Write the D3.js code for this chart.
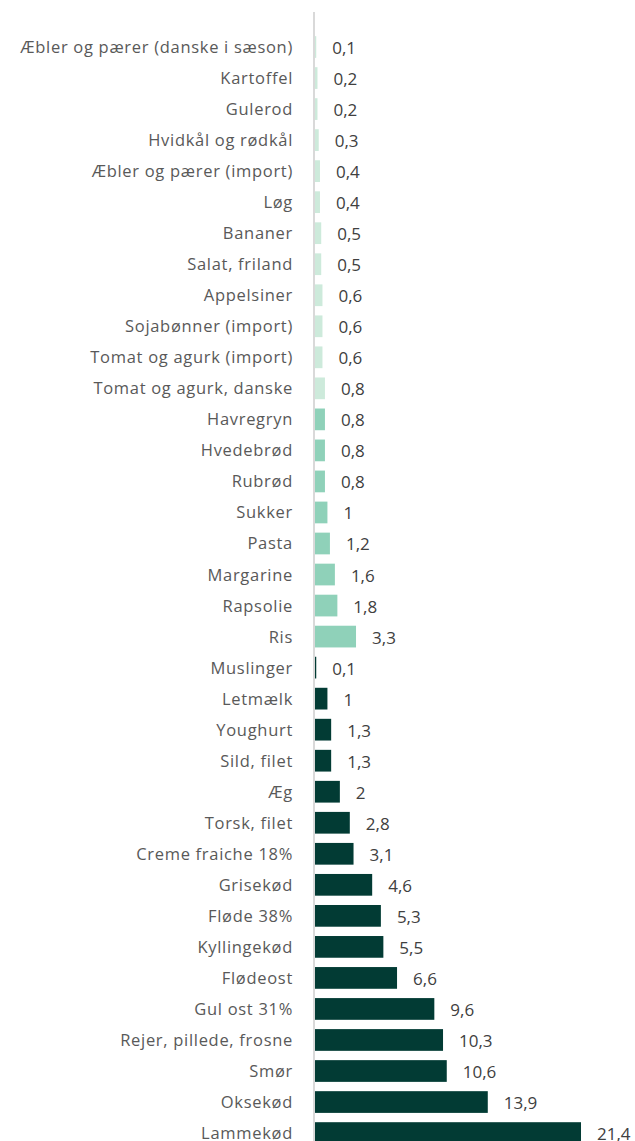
<!DOCTYPE html>
<html><head><meta charset="utf-8">
<script src="https://cdn.jsdelivr.net/npm/d3@7"></script>
<style>body{margin:0;background:#fff}svg{display:block}</style>
</head><body>
<svg id="c" width="635" height="1141"></svg>
<script>
const categories = ["Æbler og pærer (danske i sæson)","Kartoffel","Gulerod","Hvidkål og rødkål","Æbler og pærer (import)","Løg","Bananer","Salat, friland","Appelsiner","Sojabønner (import)","Tomat og agurk (import)","Tomat og agurk, danske","Havregryn","Hvedebrød","Rubrød","Sukker","Pasta","Margarine","Rapsolie","Ris","Muslinger","Letmælk","Youghurt","Sild, filet","Æg","Torsk, filet","Creme fraiche 18%","Grisekød","Fløde 38%","Kyllingekød","Flødeost","Gul ost 31%","Rejer, pillede, frosne","Smør","Oksekød","Lammekød"];
const values = [0.1,0.2,0.2,0.3,0.4,0.4,0.5,0.5,0.6,0.6,0.6,0.8,0.8,0.8,0.8,1,1.2,1.6,1.8,3.3,0.1,1,1.3,1.3,2,2.8,3.1,4.6,5.3,5.5,6.6,9.6,10.3,10.6,13.9,21.4];
const groups = ["light","light","light","light","light","light","light","light","light","light","light","light","mid","mid","mid","mid","mid","mid","mid","mid","dark","dark","dark","dark","dark","dark","dark","dark","dark","dark","dark","dark","dark","dark","dark","dark"];
const groupNames = ["light","mid","dark"];
const groupColors = ["#cdeadb","#8fd1b9","#023b34"];

const svg = d3.select("#c");
const x0 = 315;
const step = 31.03;
const y = d3.scaleBand().domain(categories).range([31.5, 31.5 + categories.length*step]).paddingInner(0.3).paddingOuter(0.15);
const x = d3.scaleLinear().domain([0, 22]).range([x0, x0 + 22*12.43]);
const color = d3.scaleOrdinal().domain(groupNames).range(groupColors);
const data = categories.map((c,i)=>({c, v: values[i], g: groups[i]}));
const fmt = v => String(v).replace(".", ",");

svg.append("g").selectAll("rect").data(data).join("rect")
  .attr("x", x(0)).attr("y", d=>y(d.c))
  .attr("width", d=>x(d.v)-x(0)).attr("height", y.bandwidth())
  .attr("fill", d=>color(d.g));

svg.append("line").attr("x1", x0-1).attr("x2", x0-1).attr("y1", 12).attr("y2", 1141)
  .attr("stroke", "#d9d9d9").attr("stroke-width", 2);

svg.append("g").selectAll("text").data(data).join("text")
  .attr("x", 293).attr("y", d=>y(d.c)+y.bandwidth()/2+6)
  .attr("text-anchor","end").attr("font-family","'Open Sans', sans-serif").attr("font-size",16.5)
  .attr("letter-spacing", "0.7px")
  .attr("fill","#595959").text(d=>d.c);

svg.append("g").selectAll("text").data(data).join("text")
  .attr("x", d=>x(d.v)+16).attr("y", d=>y(d.c)+y.bandwidth()/2+7)
  .attr("font-family","'Open Sans', sans-serif").attr("font-size",17)
  .attr("fill","#404040").text(d=>fmt(d.v));
</script>
</body></html>
